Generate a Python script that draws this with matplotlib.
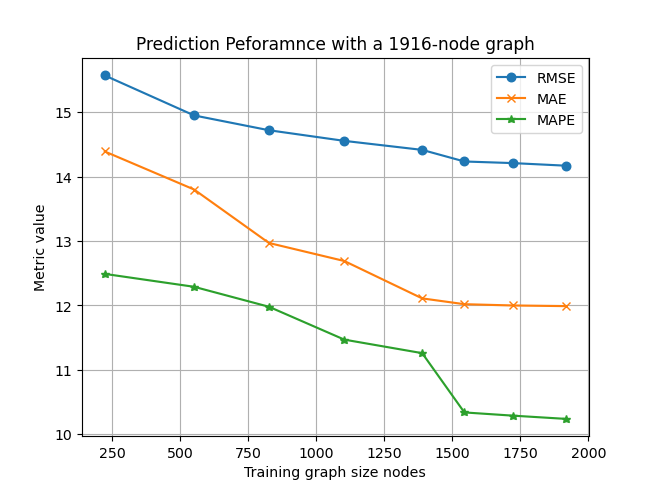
import matplotlib
matplotlib.use("Agg")
from matplotlib import pyplot as plt

# training graph sizes (nodes)
sizes = [223, 551, 826, 1103, 1389, 1544, 1722, 1916]

rmse = [15.57, 14.95, 14.72, 14.555, 14.415, 14.235, 14.21, 14.17]
mae = [14.39, 13.80, 12.97, 12.69, 12.11, 12.02, 12.00, 11.99]
mape = [12.49, 12.29, 11.98, 11.47, 11.26, 10.34, 10.29, 10.24]

fig = plt.figure(figsize=(6.4, 4.8), dpi=102.2)
plt.plot(sizes, rmse, marker="o", label="RMSE")
plt.plot(sizes, mae, marker="x", label="MAE")
plt.plot(sizes, mape, marker="*", label="MAPE")
plt.title("Prediction Peforamnce with a 1916-node graph")
plt.xlabel("Training graph size nodes")
plt.ylabel("Metric value")
plt.grid(True)
plt.legend()
plt.savefig("out.png", dpi=102.2)
